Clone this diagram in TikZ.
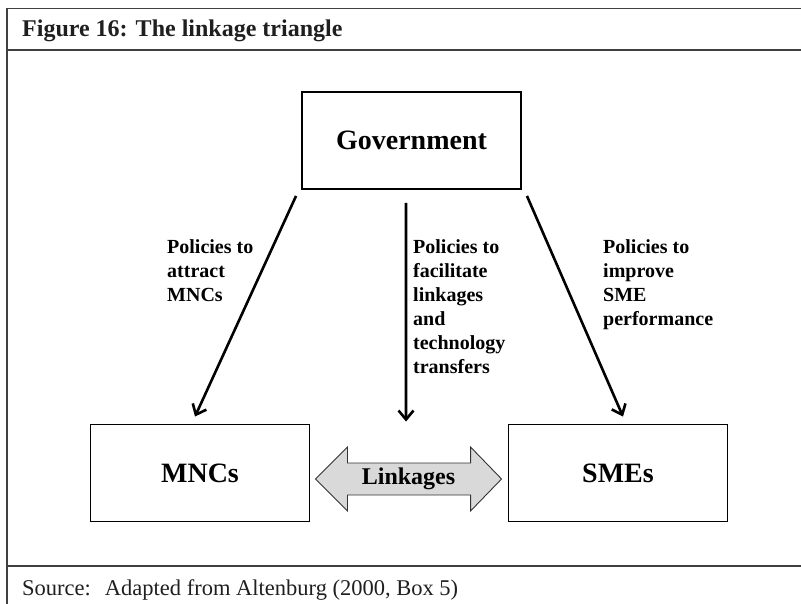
\documentclass[tikz,border=0pt]{standalone}
\usepackage{fontspec}
\setmainfont{Liberation Serif}
\usetikzlibrary{arrows.meta,calc}
\begin{document}
\begin{tikzpicture}[x=1pt,y=-1pt,
  framel/.style={line width=1.3pt, draw=black!75},
  box/.style={draw, line width=1.9pt, minimum width=219pt, minimum height=97pt, inner sep=0pt,
    font=\fontsize{28}{34}\selectfont\bfseries},
  arr/.style={line width=2.6pt, -{Straight Barb[length=9pt,width=15pt]}},
  lab/.style={align=left, inner sep=0pt, anchor=north west, font=\fontsize{20}{24}\selectfont\bfseries},
]
\useasboundingbox (0,0) rectangle (801,604);
% frame
\draw[framel] (801,8.5) -- (7,8.5) -- (7,604);
\draw[framel] (7,50) -- (801,50);
\draw[framel] (7,566) -- (801,566);
% title and source
\node[anchor=base west, inner sep=0pt, text=black!88, font=\fontsize{24}{28}\selectfont\bfseries] (title) at (22,37) {Figure 16: The linkage triangle};
\node[anchor=base west, inner sep=0pt, text=black!88, font=\fontsize{22.5}{27}\selectfont] (src) at (22,595) {Source:\hspace{14pt}Adapted from Altenburg (2000, Box 5)};
% boxes
\node[box] (gov) at (411.5,140.5) {Government};
\node[box] (mnc) at (200,473) {MNCs};
\node[box] (sme) at (618,473) {SMEs};
% arrows
\draw[arr] ($(gov.south west)+(-5,6)$) -- ($(mnc.north)+(-5,-7)$);
\draw[arr] ($(gov.south)+(-5.5,13)$) -- ($(mnc.north east)!0.5!(sme.north west)+(-3,-2)$);
\draw[arr] ($(gov.south east)+(5,6)$) -- ($(sme.north)+(5,-7)$);
% labels
\node[lab] (l1) at (167,239) {Policies to\\attract\\MNCs};
\node[lab] (l2) at (413,239) {Policies to\\facilitate\\linkages\\and\\technology\\transfers};
\node[lab] (l3) at (603,239) {Policies to\\improve\\SME\\performance};
% linkages double arrow
\coordinate (lt) at ($(mnc.east)+(5,6)$);
\coordinate (rt) at ($(sme.west)+(-6,6)$);
\draw[line width=0.9pt, draw=black!80, fill=black!15, line join=miter]
  (lt) -- ++(32,-32) -- ++(0,16) -- ($(rt)+(-31,-16)$) -- ++(0,-16) -- (rt)
  -- ++(-31,32) -- ++(0,-16) -- ($(lt)+(32,16)$) -- ++(0,16) -- cycle;
\node[font=\fontsize{24}{28}\selectfont\bfseries, inner sep=0pt] (link) at ($(lt)!0.5!(rt)$) {Linkages};
\end{tikzpicture}
\end{document}
